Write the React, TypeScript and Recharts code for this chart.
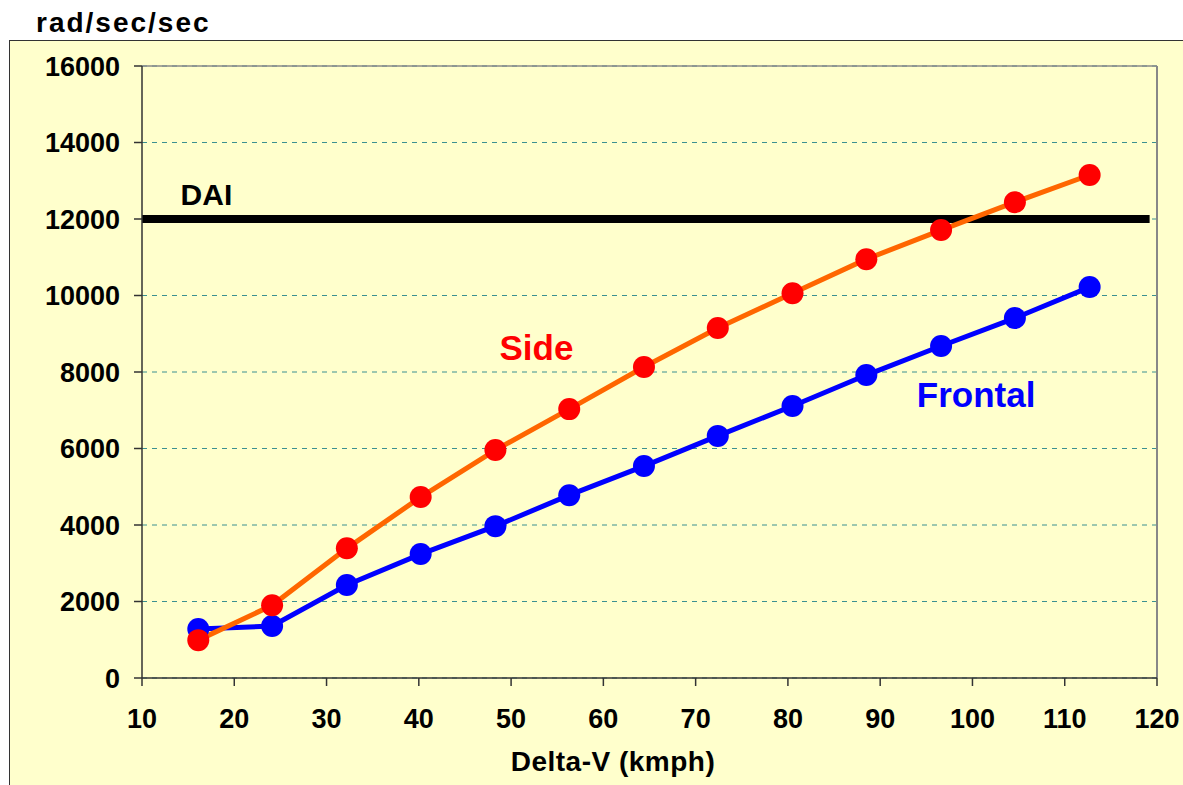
import React from 'react';
import {
  LineChart,
  Line,
  XAxis,
  YAxis,
  CartesianGrid,
  ReferenceLine,
  ReferenceDot
} from 'recharts';

// delta-V in km/h (10 mph steps)
const deltaV = [16.1, 24.1, 32.2, 40.2, 48.3, 56.3, 64.4, 72.4, 80.5, 88.5, 96.6, 104.6, 112.7];
const sideValues = [990, 1900, 3390, 4730, 5960, 7030, 8130, 9150, 10060, 10950, 11710, 12440, 13150];
const frontalValues = [1280, 1360, 2430, 3240, 3970, 4780, 5540, 6330, 7110, 7920, 8680, 9410, 10220];
const xTicks = [10, 20, 30, 40, 50, 60, 70, 80, 90, 100, 110, 120];
const yTicks = [0, 2000, 4000, 6000, 8000, 10000, 12000, 14000, 16000];
const daiLevel = 12000;

const data = deltaV.map((v, i) => ({
  kmph: v,
  side: sideValues[i],
  frontal: frontalValues[i]
}));

const FONT = '"Liberation Sans", Arial, sans-serif';
const tickStyle = { fontSize: 27, fontWeight: 700, fill: '#000', fontFamily: FONT };

export default function App() {
  return (
    <div style={{ position: 'fixed', left: 0, top: 0, width: 1183, height: 785, overflow: 'hidden', background: '#fff' }}>
      <div
        style={{
          position: 'absolute',
          left: 9,
          top: 40,
          width: 1300,
          height: 900,
          background: '#FFFFCC',
          borderLeft: '1px solid #333',
          borderTop: '1px solid #333'
        }}
      />
      <div style={{ position: 'absolute', left: 8, top: 8 }}>
        <LineChart width={1175} height={777} data={data} margin={{ top: 58, right: 26, left: 0, bottom: 0 }}>
          <CartesianGrid vertical={false} stroke="#3a9090" strokeDasharray="5 5" />
          <XAxis
            dataKey="kmph"
            type="number"
            domain={[10, 120]}
            ticks={xTicks}
            height={107}
            tickSize={8}
            tickMargin={23}
            tick={tickStyle}
            axisLine={{ stroke: '#333', strokeWidth: 1.5 }}
            tickLine={{ stroke: '#333', strokeWidth: 1.5 }}
            interval={0}
          />
          <YAxis
            type="number"
            domain={[0, 16000]}
            ticks={yTicks}
            width={134}
            tickSize={8}
            tickMargin={14}
            tick={tickStyle}
            axisLine={{ stroke: '#333', strokeWidth: 1.5 }}
            tickLine={{ stroke: '#333', strokeWidth: 1.5 }}
            interval={0}
          />
          <ReferenceLine y={16000} stroke="#888" strokeWidth={1.5} />
          <ReferenceLine x={120} stroke="#888" strokeWidth={2} />
          <ReferenceLine
            segment={[{ x: 10, y: daiLevel }, { x: 119.2, y: daiLevel }]}
            stroke="#000"
            strokeWidth={8}
          />
          <Line
            dataKey="frontal"
            stroke="#0000FF"
            strokeWidth={5}
            dot={{ r: 11, fill: '#0000FF', stroke: 'none' }}
            isAnimationActive={false}
          />
          <Line
            dataKey="side"
            stroke="#FF6600"
            strokeWidth={5}
            dot={{ r: 11, fill: '#FF0000', stroke: 'none' }}
            isAnimationActive={false}
          />
          <ReferenceDot
            x={52.75}
            y={8650}
            r={0}
            stroke="none"
            label={{ value: 'Side', position: 'center', fill: '#FF0000', fontSize: 35, fontWeight: 700, fontFamily: FONT }}
          />
          <ReferenceDot
            x={100.4}
            y={7400}
            r={0}
            stroke="none"
            label={{ value: 'Frontal', position: 'center', fill: '#0000FF', fontSize: 35, fontWeight: 700, fontFamily: FONT }}
          />
          <ReferenceDot
            x={16.98}
            y={12650}
            r={0}
            stroke="none"
            label={{ value: 'DAI', position: 'center', fill: '#000', fontSize: 30, fontWeight: 700, fontFamily: FONT }}
          />
        </LineChart>
      </div>
      <svg width={1183} height={785} style={{ position: 'absolute', left: 0, top: 0, pointerEvents: 'none' }}>
        <text x={36} y={32} fontFamily={FONT} fontSize={28} fontWeight={700} letterSpacing={2} fill="#000">
          rad/sec/sec
        </text>
        <text x={613} y={771} textAnchor="middle" fontFamily={FONT} fontSize={28} fontWeight={700} letterSpacing={0.5} fill="#000">
          Delta-V (kmph)
        </text>
      </svg>
    </div>
  );
}
